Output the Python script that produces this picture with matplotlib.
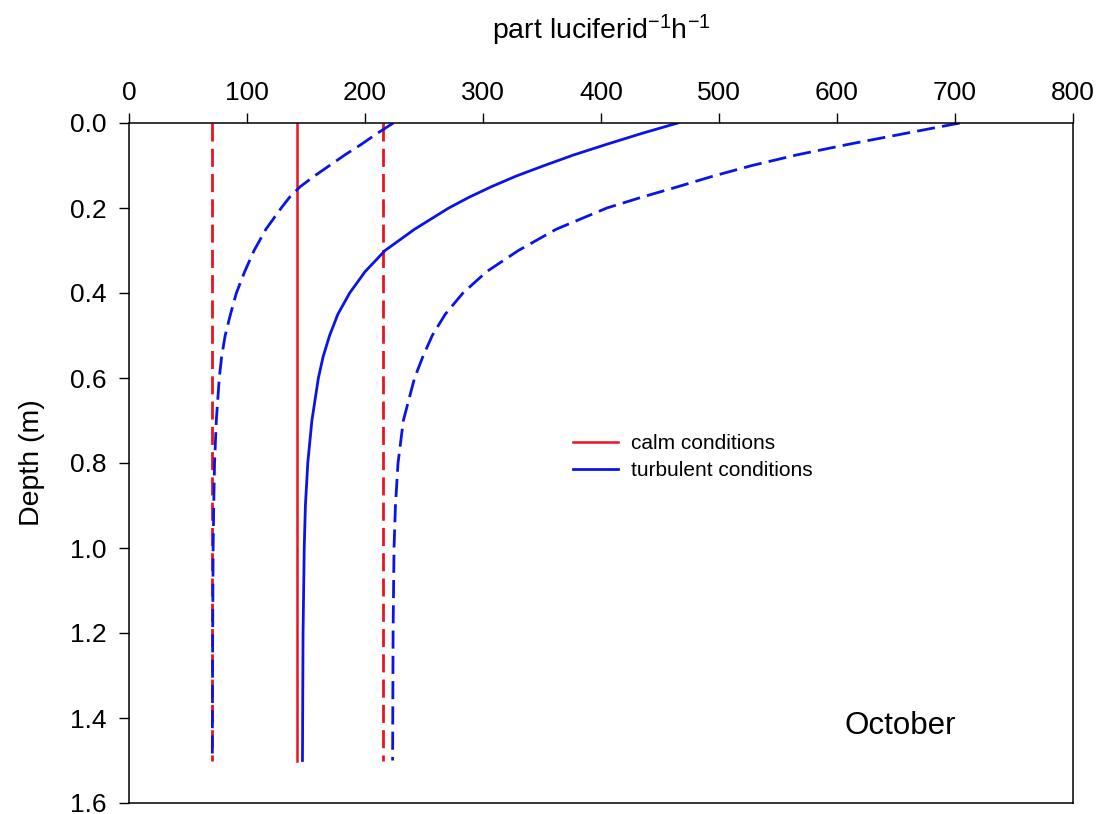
import matplotlib
matplotlib.use('Agg')
import matplotlib.pyplot as plt

plt.rcParams['font.family'] = ['Liberation Sans', 'DejaVu Sans']
plt.rcParams['mathtext.default'] = 'regular'

# calm conditions: constant rates (mean and bounds)
calm_depth = [0.0, 1.5]
calm_mean = [142, 142]
calm_low = [70, 70]
calm_high = [215.5, 215.5]

# turbulent conditions
turb_depth = [0.0, 0.025, 0.05, 0.075, 0.1, 0.125, 0.15, 0.175, 0.2, 0.25, 0.3,
              0.35, 0.4, 0.45, 0.5, 0.55, 0.6, 0.7, 0.8, 0.9, 1.0, 1.2, 1.5]
turb_mean = [465, 434, 405, 377, 352, 328, 307, 288, 271, 242, 217,
             200, 187, 177, 170, 164.5, 160.5, 155, 151.5, 149.5, 148.5, 147.5, 147]
turb_low = [224, 210, 197, 183, 170, 157, 145, 136, 129, 116, 106,
            98, 91, 86, 81.5, 78.5, 76.5, 74, 72.5, 71.8, 71.3, 70.9, 70.6]
turb_high = [704, 657, 610, 566, 528, 495, 465, 434, 405, 362, 330,
             303, 283, 268, 257, 249, 242, 232.5, 228, 225.8, 224.6, 223.8, 223.4]

fig = plt.figure(figsize=(11.12, 8.14), dpi=100)
ax = fig.add_axes([129 / 1112, 1 - 803 / 814, (1073 - 129) / 1112, (803 - 123) / 814])

red = '#e8141e'
blue = '#0a14e6'
dash = (6.5, 2.6)

ax.plot(calm_low, calm_depth, color=red, lw=2.0, dashes=dash)
ax.plot(calm_mean, calm_depth, color=red, lw=1.8, label='calm conditions')
ax.plot(calm_high, calm_depth, color=red, lw=2.0, dashes=dash)

ax.plot(turb_low, turb_depth, color=blue, lw=2.0, dashes=dash)
ax.plot(turb_mean, turb_depth, color=blue, lw=2.0, label='turbulent conditions')
ax.plot(turb_high, turb_depth, color=blue, lw=2.0, dashes=dash)

ax.set_xlim(0, 800)
ax.set_ylim(1.6, 0.0)
ax.set_xticks(range(0, 801, 100))
ax.set_yticks([i / 10 for i in range(0, 17, 2)])
ax.yaxis.set_major_formatter(matplotlib.ticker.FormatStrFormatter('%.1f'))

ax.xaxis.tick_top()
ax.xaxis.set_label_position('top')
ax.tick_params(axis='x', which='both', top=True, bottom=False, direction='out',
               length=7, width=1, labelsize=19, pad=6)
ax.tick_params(axis='y', which='both', left=True, right=False, direction='out',
               length=7, width=1, labelsize=19, pad=9)
for s in ax.spines.values():
    s.set_linewidth(1.1)

ax.set_xlabel('part luciferid$^{-1}$h$^{-1}$', fontsize=20.5, labelpad=30)
ax.set_ylabel('Depth (m)', fontsize=20.5, labelpad=18)

ax.legend(loc='upper left', bbox_to_anchor=(0.45, 0.57), frameon=False,
          fontsize=15, handlelength=2.2, handletextpad=0.6, labelspacing=0.4)

ax.text(0.817, 0.113, 'October', transform=ax.transAxes, fontsize=22.5,
        ha='center', va='center')

plt.savefig('out.png', dpi=100, facecolor='white')
